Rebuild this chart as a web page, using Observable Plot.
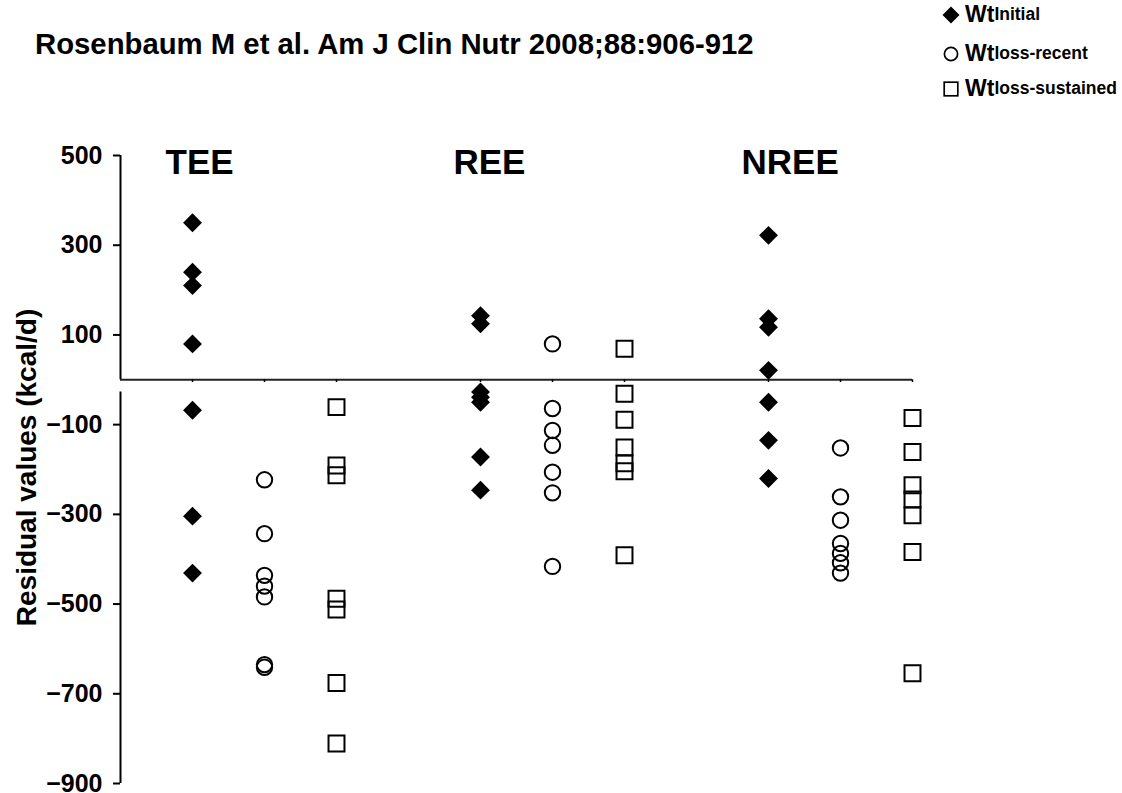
<!DOCTYPE html>
<html>
<head>
<meta charset="utf-8">
<script src="https://cdn.jsdelivr.net/npm/d3@7"></script>
<script src="https://cdn.jsdelivr.net/npm/@observablehq/plot@0.6"></script>
<style>
  html, body { margin: 0; padding: 0; background: white; }
  #wrap { position: relative; width: 1122px; height: 793px; font-family: "Liberation Sans", Arial, sans-serif; color: black; }
  #title { position: absolute; left: 35px; top: 27px; font-size: 29.3px; font-weight: bold; white-space: nowrap; z-index: 2; }
  .lg { position: absolute; left: 942px; white-space: nowrap; font-weight: bold; z-index: 2; display: flex; align-items: center; }
  .lg svg { margin-right: 5px; }
  .lg .wt { font-size: 23px; }
  .lg sub { font-size: 17.5px; vertical-align: -6px; }
  #chart { position: absolute; left: 0; top: 0; z-index: 1; }
  #chart svg { overflow: visible; }
</style>
</head>
<body>
<div id="wrap">
  <div id="title"></div>
  <div id="legend"></div>
  <div id="chart"></div>
</div>
<script>
const titleText = "Rosenbaum M et al. Am J Clin Nutr 2008;88:906-912";
const categories = ["TEE", "REE", "NREE"];
const conditions = ["initial", "loss-recent", "loss-sustained"];
const legendMain = "Wt";
const legendSubs = ["Initial", "loss-recent", "loss-sustained"];
const yLabel = "Residual values (kcal/d)";
const yTicks = [500, 300, 100, -100, -300, -500, -700, -900];

// residual values (kcal/d) per measure and weight condition
const teeInitial    = [350, 240, 210, 80, -68, -304, -431];
const teeRecent     = [-223, -343, -436, -460, -484, -635, -641];
const teeSustained  = [-61, -191, -213, -488, -512, -676, -811];
const reeInitial    = [143, 125, -27, -39, -50, -172, -246];
const reeRecent     = [80, -64, -113, -146, -206, -252, -416];
const reeSustained  = [69, -31, -89, -151, -186, -204, -391];
const nreeInitial   = [322, 136, 117, 21, -50, -135, -220];
const nreeRecent    = [-152, -261, -313, -365, -387, -408, -431];
const nreeSustained = [-85, -161, -235, -267, -302, -384, -654];

const series = [
  [teeInitial, teeRecent, teeSustained],
  [reeInitial, reeRecent, reeSustained],
  [nreeInitial, nreeRecent, nreeSustained]
];

// slot index: each measure gets 3 slots plus one empty slot between measures
const slot = (ci, ki) => ci * (conditions.length + 1) + ki;
const rows = [];
const slots = [];
series.forEach((group, ci) => group.forEach((vals, ki) => {
  slots.push(slot(ci, ki));
  vals.forEach(v => rows.push({cat: categories[ci], cond: conditions[ki], x: slot(ci, ki), y: v}));
}));
const catLabels = categories.map((c, ci) => ({label: c, x: slot(ci, 0)}));
const xMin = -1, xMax = slot(categories.length - 1, conditions.length - 1);
const yMin = d3.min(yTicks), yMax = d3.max(yTicks);

document.getElementById("title").textContent = titleText;

// legend
const legendSymbols = [
  '<svg width="18" height="18" viewBox="-9 -9 18 18"><path d="M0,-8.5L8.5,0L0,8.5L-8.5,0Z" fill="black"/></svg>',
  '<svg width="18" height="18" viewBox="-9 -9 18 18"><circle r="6.6" fill="none" stroke="black" stroke-width="1.7"/></svg>',
  '<svg width="18" height="18" viewBox="-9 -9 18 18"><rect x="-6.8" y="-6.8" width="13.6" height="13.6" fill="none" stroke="black" stroke-width="1.7"/></svg>'
];
const legendTops = [1, 40, 75];
const lg = document.getElementById("legend");
legendSubs.forEach((s, i) => {
  const d = document.createElement("div");
  d.className = "lg";
  d.style.top = legendTops[i] + "px";
  d.innerHTML = legendSymbols[i] + '<span class="wt">' + legendMain + '</span><sub>' + s + '</sub>';
  lg.appendChild(d);
});

const chart = Plot.plot({
  width: 1122,
  height: 793,
  marginLeft: 120,
  marginRight: 210,
  marginTop: 155,
  marginBottom: 10,
  style: {fontFamily: '"Liberation Sans", Arial, sans-serif', background: "transparent", color: "black"},
  x: {domain: [xMin, xMax], axis: null},
  y: {domain: [yMin, yMax], axis: null},
  marks: [
    Plot.axisY({ticks: yTicks, tickSize: 7, tickPadding: 11, fontSize: 25, fontWeight: "bold", strokeWidth: 2, label: null, anchor: "left"}),
    Plot.ruleX([xMin], {y1: yMax, y2: 0, stroke: "black", strokeWidth: 2}),
    Plot.ruleX([xMin], {y1: -27, y2: yMin, stroke: "black", strokeWidth: 2}),
    Plot.ruleY([0], {x1: xMin, x2: xMax, stroke: "#222", strokeWidth: 2}),
    Plot.ruleX(slots, {x: d => d, y1: 0, y2: -6, stroke: "black", strokeWidth: 1.5}),
    Plot.text([yLabel], {frameAnchor: "left", rotate: -90, dx: -93, dy: -2, text: d => d, fontSize: 28, fontWeight: "bold", textAnchor: "middle"}),
    Plot.text(catLabels, {x: "x", y: () => yMax, text: "label", textAnchor: "start", dx: -27, dy: 7, fontSize: 35, fontWeight: "bold"}),
    Plot.dot(rows.filter(d => d.cond === conditions[0]), {x: "x", y: "y", symbol: "diamond2", r: 8.5, fill: "black", stroke: "none"}),
    Plot.dot(rows.filter(d => d.cond === conditions[1]), {x: "x", y: "y", symbol: "circle", r: 7.7, fill: "none", stroke: "black", strokeWidth: 2}),
    Plot.dot(rows.filter(d => d.cond === conditions[2]), {x: "x", y: "y", symbol: "square", r: 9, fill: "none", stroke: "black", strokeWidth: 2})
  ]
});
document.getElementById("chart").appendChild(chart);
</script>
</body>
</html>
